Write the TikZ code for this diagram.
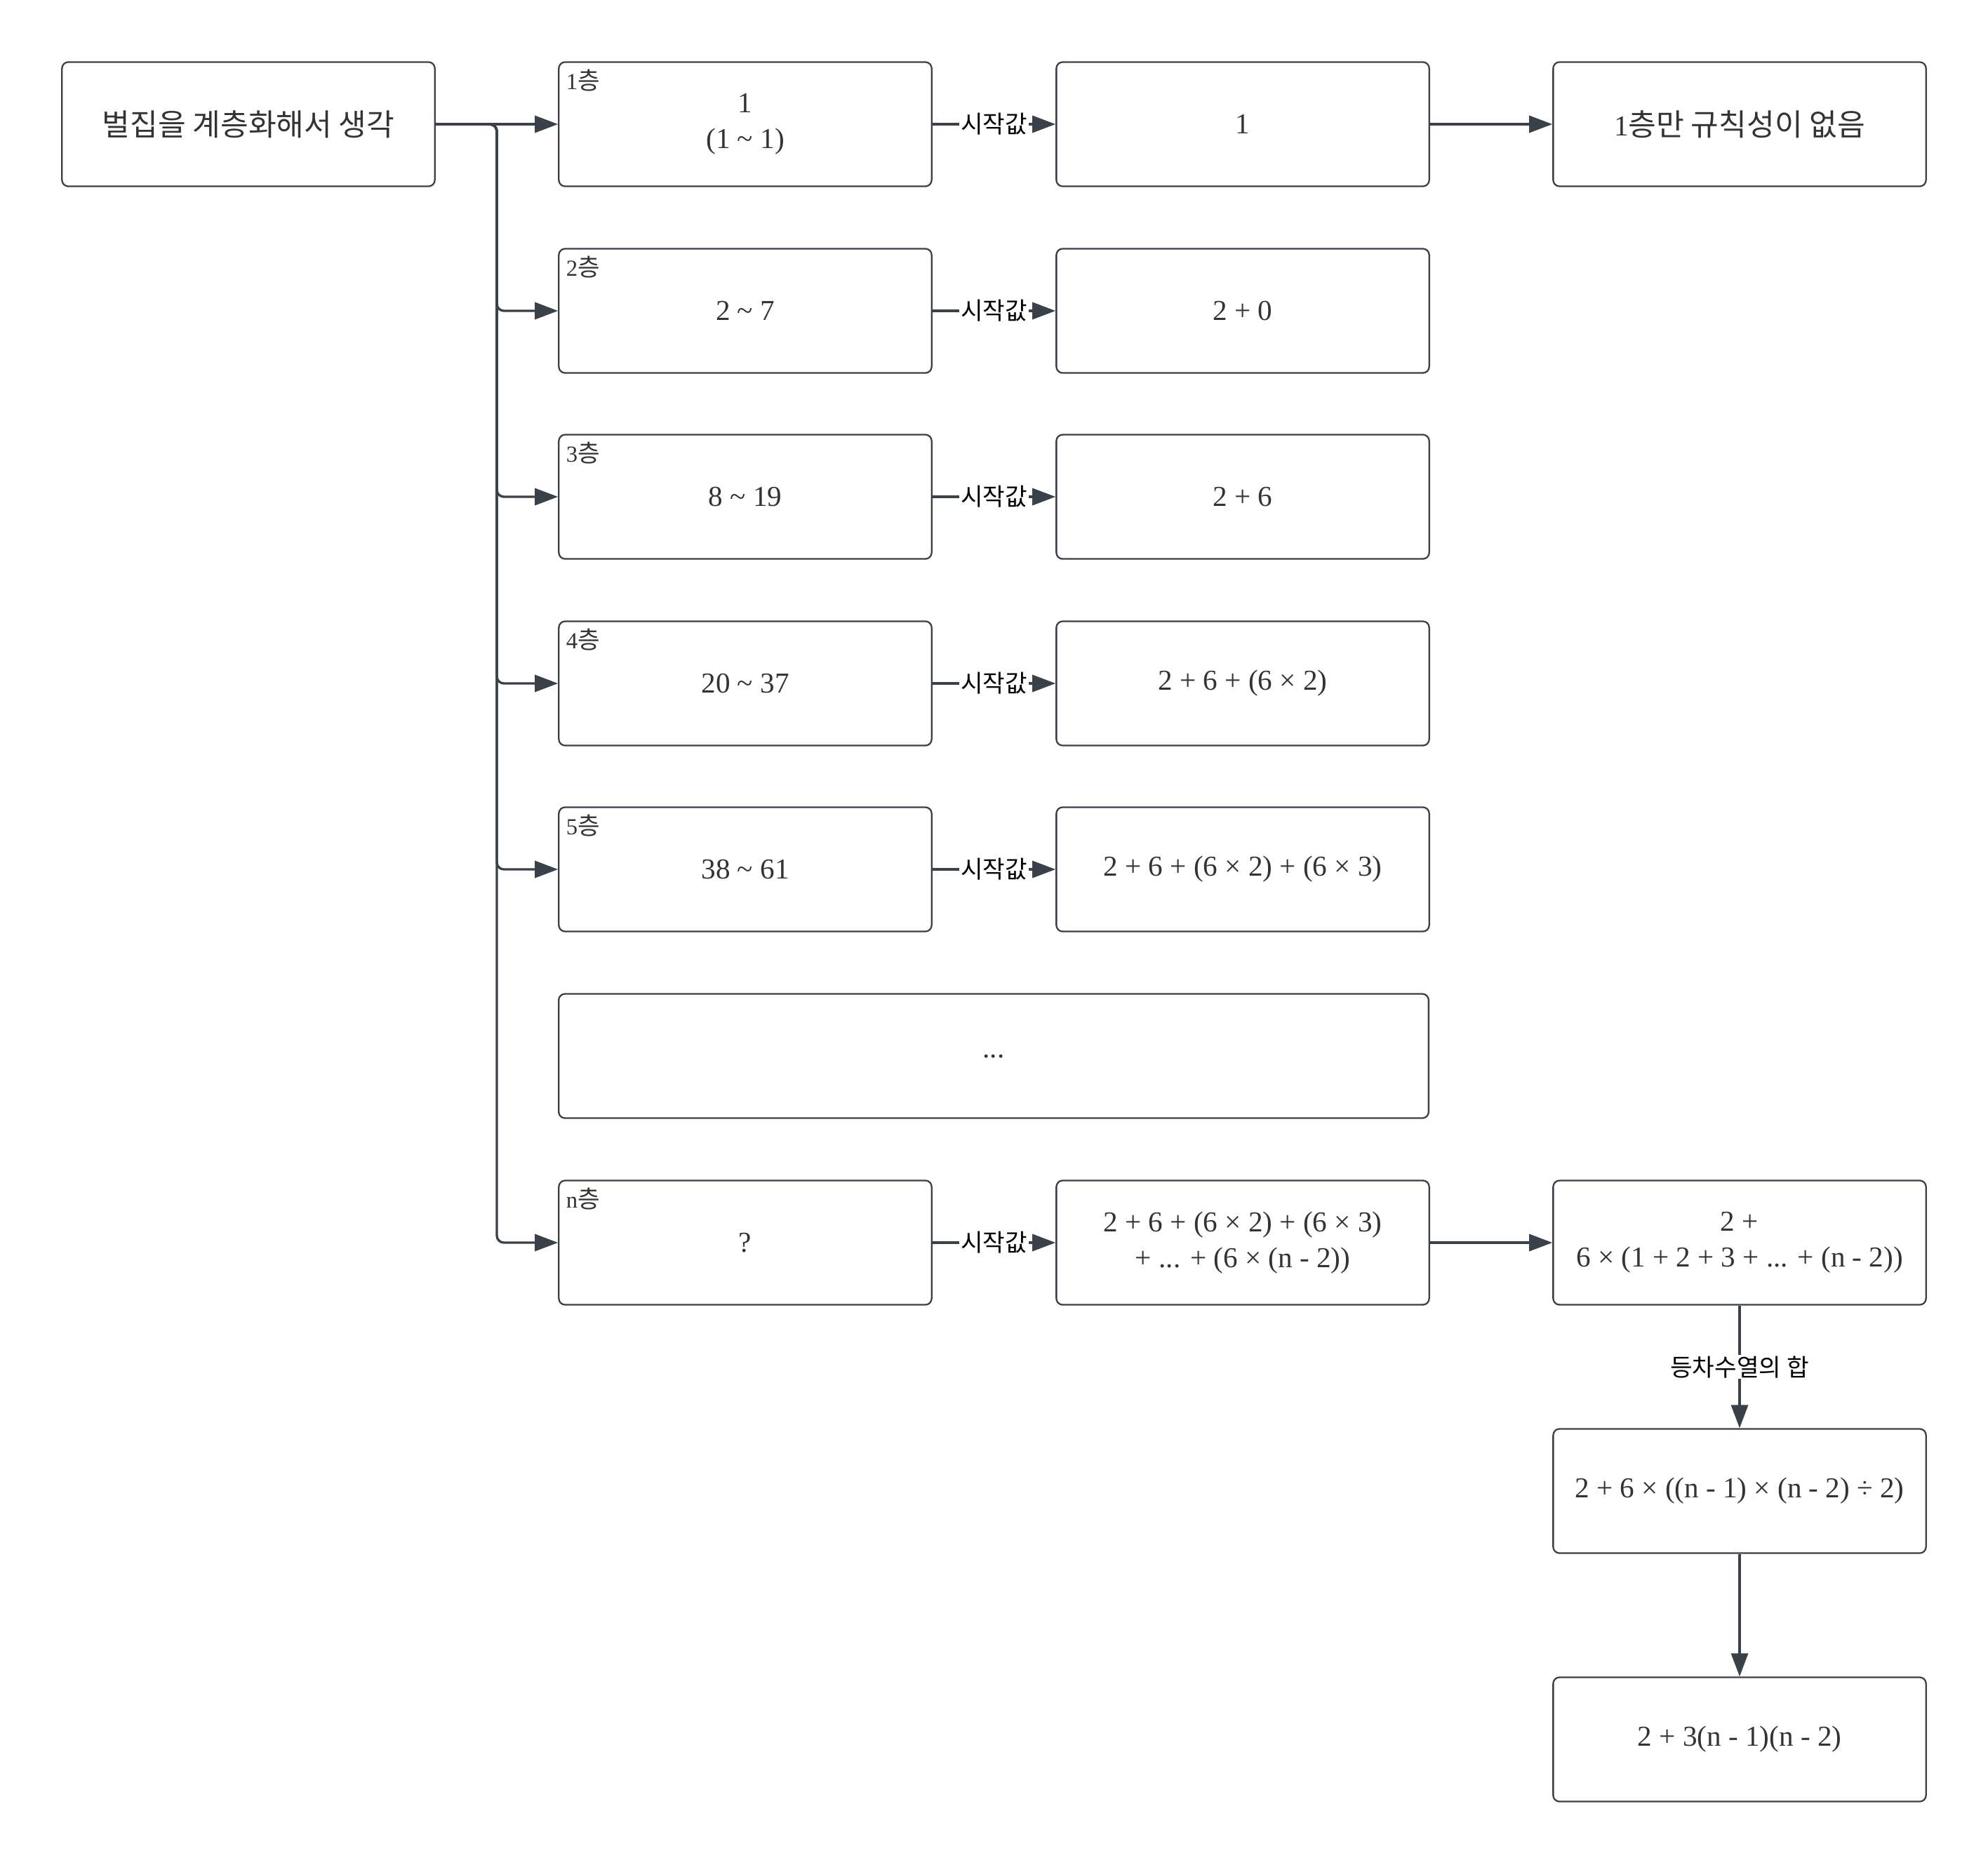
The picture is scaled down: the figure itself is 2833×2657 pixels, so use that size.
\documentclass[tikz,border=0pt]{standalone}
\usepackage{fontspec}
\setmainfont{Liberation Serif}
\newfontfamily\kr{Noto Sans CJK KR}[Scale=1.05]
\usetikzlibrary{arrows.meta,calc}
\definecolor{ln}{HTML}{3A414A}
\definecolor{tx}{HTML}{333333}
\begin{document}
\begin{tikzpicture}[x=0.01cm,y=-0.01cm,
  box/.style={draw=ln, line width=0.65pt, rounded corners=0.09cm, minimum width=5.31cm, minimum height=1.77cm, inner sep=2pt, align=center, text=tx, font=\fontsize{11.7pt}{14.5pt}\selectfont},
  corner/.style={anchor=west, inner sep=0pt, text=tx, font=\fontsize{9.3pt}{11pt}\selectfont},
  conn/.style={draw=ln, line width=0.95pt, -{Triangle[length=0.33cm,width=0.24cm]}},
  lab/.style={fill=white, inner sep=0.5pt, text=black, font=\kr\fontsize{9.3pt}{11pt}\selectfont}
]
\useasboundingbox (0,0) rectangle (2833,2657);

% boxes
\node[box] (s) at (354,177) {{\kr 벌집을 계층화해서 생각}};

\node[box] (b1) at (1062,177) {1\\(1 \textasciitilde{} 1)};
\node[box] (b2) at (1062,443) {2 \textasciitilde{} 7};
\node[box] (b3) at (1062,708) {8 \textasciitilde{} 19};
\node[box] (b4) at (1062,974) {20 \textasciitilde{} 37};
\node[box] (b5) at (1062,1239) {38 \textasciitilde{} 61};
\node[box, minimum width=12.39cm] (b6) at (1416,1505) {\raisebox{-0.06cm}{...}};
\node[box] (b7) at (1062,1771) {?};

\node[corner] (t1) at ($(b1.north west)+(11,27)$) {1{\kr 층}};
\node[corner] (t2) at ($(b2.north west)+(11,27)$) {2{\kr 층}};
\node[corner] (t3) at ($(b3.north west)+(11,27)$) {3{\kr 층}};
\node[corner] (t4) at ($(b4.north west)+(11,27)$) {4{\kr 층}};
\node[corner] (t5) at ($(b5.north west)+(11,27)$) {5{\kr 층}};
\node[corner] (t7) at ($(b7.north west)+(11,27)$) {n{\kr 층}};

\node[box] (c1) at (1771,177) {1};
\node[box] (c2) at (1771,443) {2 + 0};
\node[box] (c3) at (1771,708) {2 + 6};
\node[box] (c4) at (1771,974) {2 + 6 + (6 × 2)};
\node[box] (c5) at (1771,1239) {2 + 6 + (6 × 2) + (6 × 3)};
\node[box] (c7) at (1771,1771) {2 + 6 + (6 × 2) + (6 × 3)\\+ ... + (6 × (n - 2))};

\node[box] (d1) at (2479,177) {1{\kr 층만 규칙성이 없음}};
\node[box] (d7) at (2479,1771) {2 +\\6 × (1 + 2 + 3 + ... + (n - 2))};
\node[box] (d8) at (2479,2125) {2 + 6 × ((n - 1) × (n - 2) ÷ 2)};
\node[box] (d9) at (2479,2479) {2 + 3(n - 1)(n - 2)};

% connectors
\coordinate (tr) at (708,177);
\draw[conn] (s.east) -- (b1.west);
\foreach \k in {2,3,4,5,7}
  \draw[conn, rounded corners=0.1cm] (s.east) -- (tr) |- (b\k.west);
\foreach \k in {1,2,3,4,5,7}
  \draw[conn] (b\k.east) -- node[lab] (L\k) {시작값} (c\k.west);
\draw[conn] (c1.east) -- (d1.west);
\draw[conn] (c7.east) -- (d7.west);
\draw[conn] (d7.south) -- node[lab] (Lsum) {등차수열의 합} (d8.north);
\draw[conn] (d8.south) -- (d9.north);
\end{tikzpicture}
\end{document}
